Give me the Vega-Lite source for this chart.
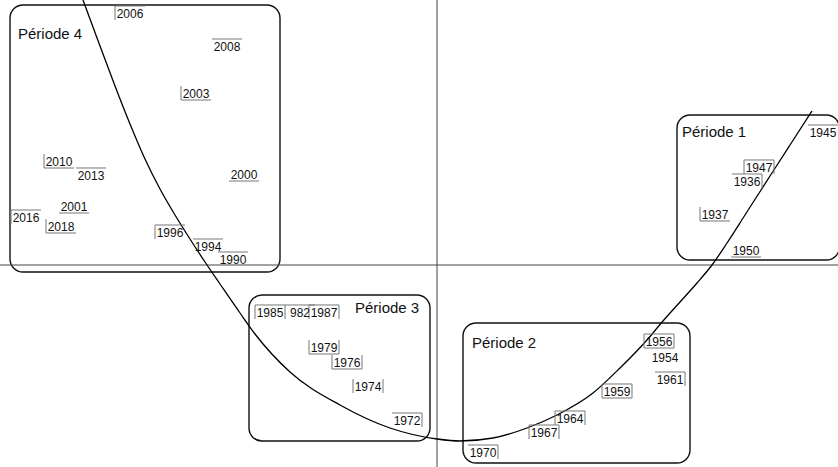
{
  "$schema": "https://vega.github.io/schema/vega-lite/v6.json",
  "width": 838,
  "height": 467,
  "autosize": {"type": "none"},
  "padding": 0,
  "background": "white",
  "config": {"view": {"stroke": null}},
  "datasets": {
    "years": [
      {"x": -1.535, "y": 1.26, "label": "2006", "frame": "tl"},
      {"x": -1.05, "y": 1.095, "label": "2008", "frame": "t"},
      {"x": -1.205, "y": 0.86, "label": "2003", "frame": "bl"},
      {"x": -1.89, "y": 0.52, "label": "2010", "frame": "bl"},
      {"x": -1.73, "y": 0.45, "label": "2013", "frame": "t"},
      {"x": -0.965, "y": 0.455, "label": "2000", "frame": "b"},
      {"x": -1.815, "y": 0.295, "label": "2001", "frame": "b"},
      {"x": -2.055, "y": 0.24, "label": "2016", "frame": "tl"},
      {"x": -1.88, "y": 0.195, "label": "2018", "frame": "bl"},
      {"x": -1.335, "y": 0.165, "label": "1996", "frame": "tl"},
      {"x": -1.145, "y": 0.095, "label": "1994", "frame": "t"},
      {"x": -1.02, "y": 0.03, "label": "1990", "frame": "t"},
      {"x": -0.835, "y": -0.235, "label": "1985", "frame": "tl"},
      {"x": -0.685, "y": -0.235, "label": "982", "frame": "tl"},
      {"x": -0.565, "y": -0.235, "label": "1987", "frame": "ltr"},
      {"x": -0.565, "y": -0.41, "label": "1979", "frame": "lbr"},
      {"x": -0.45, "y": -0.485, "label": "1976", "frame": "lbr"},
      {"x": -0.345, "y": -0.605, "label": "1974", "frame": "lr"},
      {"x": -0.15, "y": -0.775, "label": "1972", "frame": "tr"},
      {"x": 1.11, "y": -0.38, "label": "1956", "frame": "box"},
      {"x": 1.14, "y": -0.46, "label": "1954", "frame": "none"},
      {"x": 1.165, "y": -0.57, "label": "1961", "frame": "tr"},
      {"x": 0.9, "y": -0.63, "label": "1959", "frame": "box"},
      {"x": 0.665, "y": -0.765, "label": "1964", "frame": "ltr"},
      {"x": 0.535, "y": -0.835, "label": "1967", "frame": "ltr"},
      {"x": 0.23, "y": -0.935, "label": "1970", "frame": "tr"},
      {"x": 1.93, "y": 0.665, "label": "1945", "frame": "t"},
      {"x": 1.61, "y": 0.49, "label": "1947", "frame": "ltr"},
      {"x": 1.55, "y": 0.42, "label": "1936", "frame": "tr"},
      {"x": 1.39, "y": 0.255, "label": "1937", "frame": "bl"},
      {"x": 1.545, "y": 0.075, "label": "1950", "frame": "b"}
    ],
    "curve": [
      {"x": -1.77, "y": 1.325},
      {"x": -1.685, "y": 1.095},
      {"x": -1.61, "y": 0.895},
      {"x": -1.535, "y": 0.705},
      {"x": -1.46, "y": 0.53},
      {"x": -1.385, "y": 0.38},
      {"x": -1.31, "y": 0.25},
      {"x": -1.235, "y": 0.13},
      {"x": -1.16, "y": 0.015},
      {"x": -1.085, "y": -0.095},
      {"x": -0.985, "y": -0.24},
      {"x": -0.91, "y": -0.345},
      {"x": -0.735, "y": -0.535},
      {"x": -0.485, "y": -0.7},
      {"x": -0.235, "y": -0.815},
      {"x": 0.0, "y": -0.87},
      {"x": 0.115, "y": -0.88},
      {"x": 0.28, "y": -0.865},
      {"x": 0.45, "y": -0.815},
      {"x": 0.6, "y": -0.75},
      {"x": 0.78, "y": -0.64},
      {"x": 0.915, "y": -0.515},
      {"x": 1.05, "y": -0.375},
      {"x": 1.13, "y": -0.28},
      {"x": 1.215, "y": -0.185},
      {"x": 1.3, "y": -0.09},
      {"x": 1.375, "y": 0.0},
      {"x": 1.45, "y": 0.11},
      {"x": 1.54, "y": 0.25},
      {"x": 1.665, "y": 0.445},
      {"x": 1.765, "y": 0.6},
      {"x": 1.875, "y": 0.77}
    ],
    "periods": [
      {"name": "Période 4", "x": -2.135, "x2": -0.785, "y": 1.3, "y2": -0.035, "tx": -2.095, "ty": 1.13},
      {"name": "Période 3", "x": -0.94, "x2": -0.035, "y": -0.15, "y2": -0.88, "tx": -0.41, "ty": -0.24},
      {"name": "Période 2", "x": 0.13, "x2": 1.265, "y": -0.29, "y2": -0.99, "tx": 0.175, "ty": -0.415},
      {"name": "Période 1", "x": 1.2, "x2": 2.012, "y": 0.75, "y2": 0.025, "tx": 1.225, "ty": 0.64}
    ]
  },
  "layer": [
    {
      "data": {"name": "periods"},
      "mark": {"type": "rect", "cornerRadius": 13, "fill": "white", "fillOpacity": 0, "stroke": "#111111", "strokeWidth": 1.4},
      "encoding": {
        "x": {"field": "x", "type": "quantitative", "scale": {"domain": [-2.185, 2.005], "nice": false, "zero": false}, "axis": null},
        "x2": {"field": "x2"},
        "y": {"field": "y", "type": "quantitative", "scale": {"domain": [-1.01, 1.325], "nice": false, "zero": false}, "axis": null},
        "y2": {"field": "y2"}
      }
    },
    {
      "data": {"values": [{}]},
      "mark": {"type": "rule", "stroke": "#444444", "strokeWidth": 1},
      "encoding": {
        "y": {"datum": 0, "type": "quantitative", "scale": {"domain": [-1.01, 1.325], "nice": false, "zero": false}, "axis": null}
      }
    },
    {
      "data": {"values": [{}]},
      "mark": {"type": "rule", "stroke": "#444444", "strokeWidth": 1},
      "encoding": {
        "x": {"datum": 0, "type": "quantitative", "scale": {"domain": [-2.185, 2.005], "nice": false, "zero": false}, "axis": null}
      }
    },
    {
      "data": {"name": "curve"},
      "mark": {"type": "line", "interpolate": "monotone", "stroke": "#000000", "strokeWidth": 1.3},
      "encoding": {
        "x": {"field": "x", "type": "quantitative", "scale": {"domain": [-2.185, 2.005], "nice": false, "zero": false}, "axis": null},
        "y": {"field": "y", "type": "quantitative", "scale": {"domain": [-1.01, 1.325], "nice": false, "zero": false}, "axis": null}
      }
    },
    {
      "data": {"name": "years"},
      "transform": [{"filter": "datum.frame !== 'none'"}],
      "mark": {"type": "point", "filled": false, "size": 900, "stroke": "#777777", "strokeWidth": 1, "opacity": 1},
      "encoding": {
        "x": {"field": "x", "type": "quantitative", "scale": {"domain": [-2.185, 2.005], "nice": false, "zero": false}, "axis": null},
        "y": {"field": "y", "type": "quantitative", "scale": {"domain": [-1.01, 1.325], "nice": false, "zero": false}, "axis": null},
        "shape": {
          "field": "frame",
          "type": "nominal",
          "legend": null,
          "scale": {
            "domain": ["tl", "tr", "bl", "br", "t", "b", "ltr", "lbr", "lr", "box"],
            "range": [
              "M-1,0.467V-0.467H1",
              "M-1,-0.467H1V0.467",
              "M-1,-0.467V0.467H1",
              "M-1,0.467H1V-0.467",
              "M-1,-0.467H1",
              "M-1,0.467H1",
              "M-1,0.467V-0.467H1V0.467",
              "M-1,-0.467V0.467H1V-0.467",
              "M-1,-0.467V0.467M1,-0.467V0.467",
              "M-1,-0.467H1V0.467H-1Z"
            ]
          }
        }
      }
    },
    {
      "data": {"name": "years"},
      "mark": {"type": "text", "font": "Liberation Sans", "fontSize": 12, "align": "center", "baseline": "middle", "dy": 1, "fill": "#111111"},
      "encoding": {
        "x": {"field": "x", "type": "quantitative", "scale": {"domain": [-2.185, 2.005], "nice": false, "zero": false}, "axis": null},
        "y": {"field": "y", "type": "quantitative", "scale": {"domain": [-1.01, 1.325], "nice": false, "zero": false}, "axis": null},
        "text": {"field": "label"}
      }
    },
    {
      "data": {"name": "periods"},
      "mark": {"type": "text", "font": "Liberation Sans", "fontSize": 15, "align": "left", "baseline": "alphabetic", "fill": "#111111"},
      "encoding": {
        "x": {"field": "tx", "type": "quantitative", "scale": {"domain": [-2.185, 2.005], "nice": false, "zero": false}, "axis": null},
        "y": {"field": "ty", "type": "quantitative", "scale": {"domain": [-1.01, 1.325], "nice": false, "zero": false}, "axis": null},
        "text": {"field": "name"}
      }
    }
  ]
}
